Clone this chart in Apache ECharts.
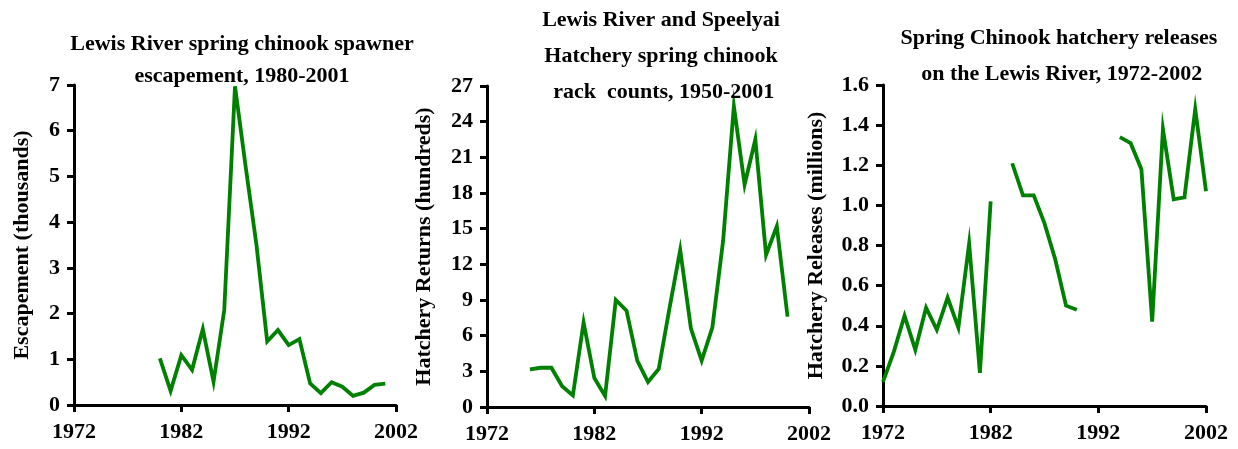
<!DOCTYPE html>
<html>
<head>
<meta charset="utf-8">
<script src="https://cdn.jsdelivr.net/npm/echarts@6/dist/echarts.min.js"></script>
<style>html,body{margin:0;padding:0;background:#fff;}#c{width:1238px;height:449px;}</style>
</head>
<body>
<div id="c"></div>
<script>
// Panel 1: spawner escapement (thousands)
var escYears = [1980,1981,1982,1983,1984,1985,1986,1987,1988,1989,1990,1991,1992,1993,1994,1995,1996,1997,1998,1999,2000,2001];
var escValues = [1.02,0.31,1.09,0.77,1.66,0.51,2.08,6.97,5.2,3.5,1.39,1.64,1.31,1.44,0.47,0.26,0.5,0.4,0.2,0.27,0.44,0.47];

// Panel 2: hatchery rack counts (hundreds)
var rackYears = [1976,1977,1978,1979,1980,1981,1982,1983,1984,1985,1986,1987,1988,1989,1990,1991,1992,1993,1994,1995,1996,1997,1998,1999,2000];
var rackValues = [3.17,3.3,3.3,1.74,0.98,7.1,2.44,0.93,9.0,8.1,3.9,2.1,3.2,8.3,13.2,6.6,3.9,6.7,14.0,25.3,18.7,22.5,12.8,15.2,7.6];

// Panel 3: hatchery releases (millions); null = no data
var relYears = [1972,1973,1974,1975,1976,1977,1978,1979,1980,1981,1982,1983,1984,1985,1986,1987,1988,1989,1990,1991,1992,1993,1994,1995,1996,1997,1998,1999,2000,2001,2002];
var relValues = [0.12,0.27,0.45,0.28,0.49,0.38,0.54,0.39,0.81,0.165,1.02,null,1.21,1.05,1.05,0.91,0.73,0.50,0.48,null,null,null,1.34,1.31,1.18,0.42,1.38,1.03,1.04,1.48,1.07];

var xTickYears = [1972,1982,1992,2002];

var titles = [
  "Lewis River spring chinook spawner\nescapement, 1980-2001",
  "Lewis River and Speelyai\nHatchery spring chinook\n rack  counts, 1950-2001",
  "Spring Chinook hatchery releases\n on the Lewis River, 1972-2002"
];
var yNames = ["Escapement (thousands)", "Hatchery Returns (hundreds)", "Hatchery Releases (millions)"];

function pairs(xs, ys){ return xs.map(function(x,i){ return [x, ys[i]]; }); }

var FONT = '"Liberation Serif", "Times New Roman", serif';
var axisLineStyle = {color:'#000', width:3};

function xAxisFor(idx){
  return {
    type:'value', gridIndex: idx, min: xTickYears[0], max: xTickYears[xTickYears.length-1], interval: 10,
    axisLine:{show:true, onZero:false, lineStyle: axisLineStyle},
    axisTick:{show:true, length:7, lineStyle:{color:'#000', width:3}},
    splitLine:{show:false},
    axisLabel:{color:'#000', fontFamily:FONT, fontWeight:'bold', fontSize:22, margin:16, showMinLabel:true, showMaxLabel:true,
      formatter:function(v){ return String(v); }}
  };
}
function yAxisFor(idx, max, interval, gap, fmt){
  return {
    type:'value', gridIndex: idx, min:0, max:max, interval:interval,
    name: yNames[idx], nameLocation:'middle', nameRotate:90, nameGap:gap,
    nameTextStyle:{color:'#000', fontFamily:FONT, fontWeight:'bold', fontSize:22},
    axisLine:{show:true, lineStyle: axisLineStyle},
    axisTick:{show:true, length:7, lineStyle:{color:'#000', width:3}},
    splitLine:{show:false},
    axisLabel:{color:'#000', fontFamily:FONT, fontWeight:'bold', fontSize:22, margin:14, formatter: fmt}
  };
}
function lineSeries(idx, data){
  return {
    type:'line', xAxisIndex: idx, yAxisIndex: idx, data: data, showSymbol:false, symbol:'none',
    connectNulls:false, lineStyle:{color:'#008000', width:3.8, join:'miter'}, itemStyle:{color:'#008000'},
    animation:false
  };
}
function titleFor(idx, cx, top, lh){
  return {
    text: titles[idx], left: cx, top: top, textAlign:'center',
    textStyle:{color:'#000', fontFamily:FONT, fontWeight:'bold', fontSize:22, lineHeight: lh}
  };
}

var chart = echarts.init(document.getElementById('c'), null, {renderer:'canvas'});
chart.setOption({
  backgroundColor:'#fff',
  animation:false,
  title:[ titleFor(0, 237, 23, 32), titleFor(1, 656, -3, 36), titleFor(2, 1054, 15, 36) ],
  grid:[
    {left:74, top:85, width:322, height:320},
    {left:487, top:86, width:322, height:321},
    {left:883, top:85, width:323, height:321}
  ],
  xAxis:[ xAxisFor(0), xAxisFor(1), xAxisFor(2) ],
  yAxis:[
    yAxisFor(0, 7, 1, 41, null),
    yAxisFor(1, 27, 3, 52, null),
    yAxisFor(2, 1.6, 0.2, 56, function(v){ return v.toFixed(1); })
  ],
  series:[
    lineSeries(0, pairs(escYears, escValues)),
    lineSeries(1, pairs(rackYears, rackValues)),
    lineSeries(2, pairs(relYears, relValues))
  ]
});
</script>
</body>
</html>
